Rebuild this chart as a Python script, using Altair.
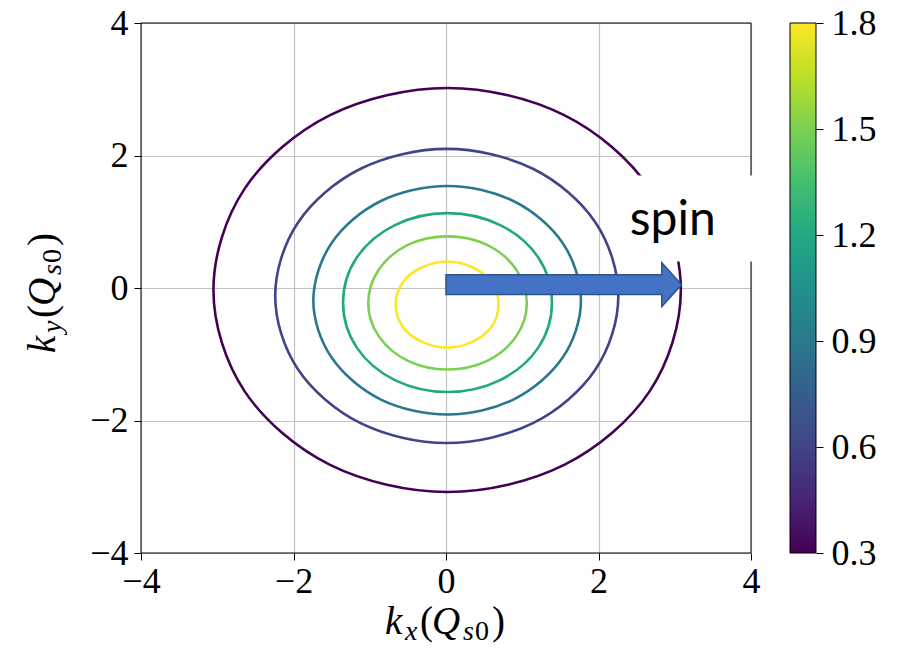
import altair as alt
import pandas as pd

# Contour levels (colour values) and points along each closed contour, in units of Q_s0
levels = [0.3, 0.6, 0.9, 1.2, 1.5, 1.8]

kx_l03 = [3.08, 2.67, 1.55, 0.02, -1.52, -2.64, -3.05, -2.64, -1.52, 0.02, 1.55, 2.67]
ky_l03 = [-0.03, 1.50, 2.61, 3.02, 2.61, 1.50, -0.03, -1.56, -2.67, -3.08, -2.67, -1.56]

kx_l06 = [2.26, 1.96, 1.14, 0.01, -1.12, -1.94, -2.24, -1.94, -1.12, 0.01, 1.14, 1.96]
ky_l06 = [-0.12, 0.99, 1.80, 2.10, 1.80, 0.99, -0.12, -1.23, -2.04, -2.34, -2.04, -1.23]

kx_l09 = [1.77, 1.53, 0.89, 0.02, -0.86, -1.50, -1.74, -1.50, -0.86, 0.02, 0.89, 1.53]
ky_l09 = [-0.19, 0.68, 1.31, 1.54, 1.31, 0.68, -0.19, -1.05, -1.68, -1.91, -1.68, -1.05]

kx_l12 = [1.39, 1.21, 0.71, 0.02, -0.67, -1.17, -1.35, -1.17, -0.67, 0.02, 0.71, 1.21]
ky_l12 = [-0.22, 0.46, 0.95, 1.13, 0.95, 0.46, -0.22, -0.90, -1.39, -1.57, -1.39, -0.90]

kx_l15 = [1.06, 0.92, 0.54, 0.02, -0.50, -0.88, -1.02, -0.88, -0.50, 0.02, 0.54, 0.92]
ky_l15 = [-0.23, 0.28, 0.65, 0.78, 0.65, 0.28, -0.23, -0.73, -1.10, -1.23, -1.10, -0.73]

kx_l18 = [0.69, 0.60, 0.35, 0.02, -0.32, -0.57, -0.66, -0.57, -0.32, 0.02, 0.35, 0.60]
ky_l18 = [-0.25, 0.08, 0.31, 0.40, 0.31, 0.08, -0.25, -0.58, -0.81, -0.90, -0.81, -0.58]

contour_kx = [kx_l03, kx_l06, kx_l09, kx_l12, kx_l15, kx_l18]
contour_ky = [ky_l03, ky_l06, ky_l09, ky_l12, ky_l15, ky_l18]

axis_ticks = [-4, -2, 0, 2, 4]
cbar_ticks = [0.3, 0.6, 0.9, 1.2, 1.5, 1.8]

# "spin" arrow and its label box (data coordinates)
arrow_tail = [0.0, 0.05]
arrow_tip_x = 3.09
arrow_head_base_x = 2.83
arrow_shaft_half = 0.15
arrow_head_half = 0.33
spin_box = {"x0": 2.35, "x1": 4.41, "y0": 0.40, "y1": 1.70}
spin_label = {"x": 2.41, "y": 0.80, "text": "spin"}

viridis = ["#440154", "#482475", "#414487", "#355f8d", "#2a788e", "#21918c",
           "#22a884", "#44bf70", "#7ad151", "#bddf26", "#fde725"]

W, H = 610, 530
LEFT, TOP = 141, 23
SERIF = "Liberation Serif"

rows = []
for lev, xs, ys in zip(levels, contour_kx, contour_ky):
    for i, (x, y) in enumerate(zip(xs, ys)):
        rows.append({"level": lev, "idx": i, "kx": x, "ky": y})
contours = pd.DataFrame(rows)

xscale = alt.Scale(domain=[-4, 4], nice=False, zero=False)
yscale = alt.Scale(domain=[-4, 4], nice=False, zero=False)

common_axis = dict(values=axis_ticks, title=None, grid=True, gridColor="#c2c2c2",
                   gridWidth=1.2, domain=False, ticks=True, tickSize=7,
                   tickColor="black", tickWidth=1, labelFont=SERIF, labelFontSize=36,
                   labelColor="black", labelOverlap=False, labelFlush=False,
                   format="d", zindex=0)
xaxis = alt.Axis(orient="bottom", labelPadding=4, **common_axis)
yaxis = alt.Axis(orient="left", labelPadding=6, **common_axis)


def X(field):
    return alt.X(field, type="quantitative", scale=xscale, axis=xaxis)


def Y(field):
    return alt.Y(field, type="quantitative", scale=yscale, axis=yaxis)


# plot frame
frame = alt.Chart(pd.DataFrame({"x0": [-4], "x1": [4], "y0": [-4], "y1": [4]})).mark_rect(
    fill="transparent", stroke="black", strokeWidth=1
).encode(x=X("x0"), x2="x1", y=Y("y0"), y2="y1")

lines = alt.Chart(contours).mark_line(
    interpolate="cardinal-closed", strokeWidth=2.6
).encode(
    x=X("kx"),
    y=Y("ky"),
    color=alt.Color("level:Q", scale=alt.Scale(scheme="viridis", domain=[0.3, 1.8]), legend=None),
    detail="level:N",
    order="idx:Q",
)

box = alt.Chart(pd.DataFrame([spin_box])).mark_rect(fill="white", stroke="transparent").encode(
    x=X("x0"), x2="x1", y=Y("y0"), y2="y1"
)

label = alt.Chart(pd.DataFrame([spin_label])).mark_text(
    font="Lato", fontSize=48, align="left", baseline="alphabetic", color="black"
).encode(x=X("x"), y=Y("y"), text="text:N")

# block arrow outline, in pixels relative to the tail (symbol size 4 -> 1 unit = 1 px)
sx, sy = W / 8.0, H / 8.0
L = (arrow_tip_x - arrow_tail[0]) * sx
B = (arrow_head_base_x - arrow_tail[0]) * sx
hs = arrow_shaft_half * sy
hh = arrow_head_half * sy
arrow_path = (f"M0,{-hs:.1f} L{B:.1f},{-hs:.1f} L{B:.1f},{-hh:.1f} L{L:.1f},0 "
              f"L{B:.1f},{hh:.1f} L{B:.1f},{hs:.1f} L0,{hs:.1f} Z")
arrow = alt.Chart(pd.DataFrame({"x": [arrow_tail[0]], "y": [arrow_tail[1]]})).mark_point(
    shape=arrow_path, size=4, filled=True, fill="#4472C4", stroke="#2F528F",
    strokeWidth=1.5, opacity=1
).encode(x=X("x"), y=Y("y"))

plot = alt.layer(frame, lines, box, label, arrow)

# colour bar
cbar = alt.Chart(pd.DataFrame({"lo": [0.3], "hi": [1.8]})).mark_rect(
    fill=alt.Gradient(
        gradient="linear",
        stops=[alt.GradientStop(color=c, offset=i / (len(viridis) - 1)) for i, c in enumerate(viridis)],
        x1=0, x2=0, y1=1, y2=0,
    ),
    stroke="black", strokeWidth=1,
).encode(
    x=alt.value(649), x2=alt.value(675),
    y=alt.Y("lo:Q", scale=alt.Scale(domain=[0.3, 1.8], nice=False, zero=False),
            axis=alt.Axis(orient="right", offset=65, values=cbar_ticks, format=".1f",
                          title=None, grid=False, domain=False, tickSize=7,
                          tickColor="black", labelFont=SERIF, labelFontSize=36,
                          labelColor="black", labelPadding=8, labelOverlap=False,
                          labelFlush=False)),
    y2="hi:Q",
)

# axis titles k_x(Q_s0) and k_y(Q_s0), glyph by glyph: (text, offset, size, italic, lowered)
xtitle_glyphs = [("k", 0, 39, True, 0), ("x", 20, 28, True, 6), ("(", 35, 39, False, 0),
                 ("Q", 47, 39, True, 0), ("s", 78, 28, True, 6), ("0", 90, 28, False, 6),
                 (")", 107, 39, False, 0)]
ytitle_glyphs = [("k", 0, 39, True, 0), ("y", 20, 28, True, 6), ("(", 35, 39, False, 0),
                 ("Q", 47, 39, True, 0), ("s", 78, 28, True, 6), ("0", 90, 28, False, 6),
                 (")", 107, 39, False, 0)]
xtitle_start, xtitle_base = 385, 634
ytitle_start, ytitle_base = 353, 55

one = pd.DataFrame({"k": [0]})
glyph_layers = []
for t, off, fs, it, low in xtitle_glyphs:
    glyph_layers.append(alt.Chart(one).mark_text(
        text=t, font=SERIF, fontSize=fs, fontStyle="italic" if it else "normal",
        align="left", baseline="alphabetic", color="black"
    ).encode(x=alt.value(xtitle_start + off - LEFT), y=alt.value(xtitle_base + low - TOP)))
for t, off, fs, it, low in ytitle_glyphs:
    glyph_layers.append(alt.Chart(one).mark_text(
        text=t, font=SERIF, fontSize=fs, fontStyle="italic" if it else "normal",
        align="left", baseline="alphabetic", angle=270, color="black"
    ).encode(x=alt.value(ytitle_base + low - LEFT), y=alt.value(ytitle_start - off - TOP)))

chart = alt.layer(plot, cbar, *glyph_layers).resolve_scale(y="independent").properties(
    width=W, height=H,
    autosize=alt.AutoSizeParams(type="none"),
    padding={"left": LEFT, "top": TOP, "right": 902 - LEFT - W, "bottom": 651 - TOP - H},
).configure_view(stroke="transparent")

chart.save("out.html", embed_options={"renderer": "svg", "actions": False})
